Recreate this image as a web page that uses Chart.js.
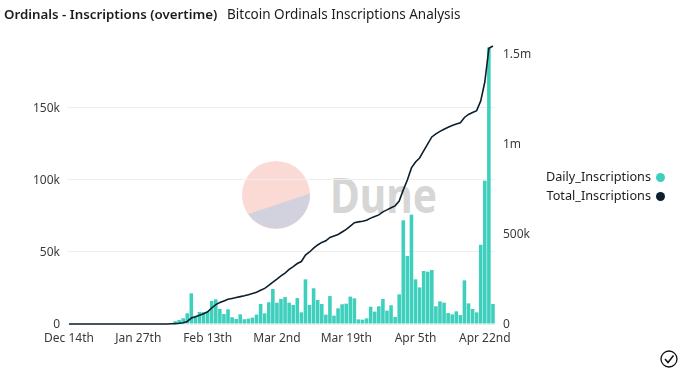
<!DOCTYPE html>
<html>
<head>
<meta charset="utf-8">
<title>Ordinals - Inscriptions (overtime)</title>
<script src="https://cdn.jsdelivr.net/npm/chart.js@4"></script>
<style>
  html, body { margin: 0; padding: 0; background: #fff; }
  #wrap { position: relative; width: 682px; height: 375px; overflow: hidden; font-family: "Noto Sans", sans-serif; color: #1c1c1c; }
  #title, #subtitle { position: absolute; top: 5px; line-height: 18px; white-space: nowrap; }
  #title { left: 4px; font-size: 13.3px; font-weight: 600; }
  #subtitle { left: 227px; font-size: 13.5px; }
  #mark, #check, #chart { position: absolute; left: 0; top: 0; }
  #legend { position: absolute; right: 17px; top: 167px; font-size: 12.7px; line-height: 19px; text-align: right; }
  #legend i { display: inline-block; width: 9px; height: 9px; border-radius: 50%; margin-left: 5px; vertical-align: -0.5px; }
</style>
</head>
<body>
<div id="wrap">
  <svg id="mark" width="682" height="375">
    <circle cx="276" cy="195" r="34" fill="#fbd9d5"/>
    <path d="M248.3 214.2 L309.9 193.4 A34 34 0 0 1 248.3 214.2 Z" fill="#d2d2de"/>
    <text x="330" y="213" font-family="Noto Sans" font-weight="700" font-size="48" fill="#d6d6d6" textLength="107" lengthAdjust="spacingAndGlyphs">Dune</text>
  </svg>
  <canvas id="chart" width="682" height="375"></canvas>
  <div id="title">Ordinals - Inscriptions (overtime)</div>
  <div id="subtitle">Bitcoin Ordinals Inscriptions Analysis</div>
  <div id="legend"></div>
  <svg id="check" width="682" height="375">
    <circle cx="669" cy="359" r="8" fill="none" stroke="#111" stroke-width="1.3"/>
    <path d="M665 359 L668 362.5 L673.5 355.5" fill="none" stroke="#111" stroke-width="1.5"/>
  </svg>
</div>
<script>
const days = [
  "Dec 14th", "Dec 15th", "Dec 17th", "Dec 19th", "Dec 22nd", "Dec 25th", "Dec 28th", "Dec 31st", "Jan 3rd",
  "Jan 6th", "Jan 9th", "Jan 12th", "Jan 15th", "Jan 18th", "Jan 21st", "Jan 23rd", "Jan 25th",
  "Jan 27th", "Jan 28th", "Jan 29th", "Jan 30th", "Jan 31st", "Feb 1st", "Feb 2nd", "Feb 3rd", "Feb 4th",
  "Feb 5th", "Feb 6th", "Feb 7th", "Feb 8th", "Feb 9th", "Feb 10th", "Feb 11th", "Feb 12th",
  "Feb 13th", "Feb 14th", "Feb 15th", "Feb 16th", "Feb 17th", "Feb 18th", "Feb 19th", "Feb 20th", "Feb 21st",
  "Feb 22nd", "Feb 23rd", "Feb 24th", "Feb 25th", "Feb 26th", "Feb 27th", "Feb 28th", "Mar 1st",
  "Mar 2nd", "Mar 3rd", "Mar 4th", "Mar 5th", "Mar 6th", "Mar 7th", "Mar 8th", "Mar 9th", "Mar 10th",
  "Mar 11th", "Mar 12th", "Mar 13th", "Mar 14th", "Mar 15th", "Mar 16th", "Mar 17th", "Mar 18th",
  "Mar 19th", "Mar 20th", "Mar 21st", "Mar 22nd", "Mar 23rd", "Mar 24th", "Mar 25th", "Mar 26th", "Mar 27th",
  "Mar 28th", "Mar 29th", "Mar 30th", "Mar 31st", "Apr 1st", "Apr 2nd", "Apr 3rd", "Apr 4th",
  "Apr 5th", "Apr 6th", "Apr 7th", "Apr 8th", "Apr 9th", "Apr 10th", "Apr 11th", "Apr 12th", "Apr 13th",
  "Apr 14th", "Apr 15th", "Apr 16th", "Apr 17th", "Apr 18th", "Apr 19th", "Apr 20th", "Apr 21st",
  "Apr 22nd", "Apr 23rd", "Apr 24th"
];

const dailyInscriptions = [
  0, 0, 0, 0, 0, 0, 0, 0, 0, 0, 0, 0, 0, 0, 0, 0, 0, 0, 0, 0, 0, 0, 0, 100, 200,
  700, 1900, 2800, 4000, 7400, 21300, 5600, 8300, 8300, 9000, 16000, 17100, 10400, 6900, 10200,
  4700, 3500, 6700, 3300, 3700, 4400, 6500, 13900, 7400, 15100, 24300, 14800, 17400, 18700, 14800,
  13200, 18000, 8100, 31000, 13200, 24800, 16700, 13900, 6500, 19400, 5800, 10900, 13700, 14100, 19000,
  17800, 3200, 3000, 3900, 12000, 8600, 12300, 17400, 9300, 13000, 4900, 20600, 72000, 47200, 75900,
  31000, 25400, 36800, 36300, 37500, 12300, 15700, 14800, 7600, 6700, 8800, 6200, 30300, 14300, 10400,
  8100, 55000, 99500, 192000, 13900
];

const totalInscriptions = [
  0, 0, 0, 0, 0, 0, 0, 0, 0, 0, 0, 0, 0, 0, 0, 0, 0, 0, 0, 0, 0, 0, 0, 100, 300,
  1000, 2000, 4000, 7000, 14000, 33000, 40000, 48000, 57000, 67000, 89000, 108000, 119000, 128000, 137000,
  142000, 147000, 152000, 157000, 163000, 169000, 176000, 187000, 198000, 214000, 233000, 249000, 267000, 283000, 303000,
  319000, 336000, 347000, 383000, 400000, 421000, 439000, 453000, 462000, 481000, 489000, 497000, 511000, 525000, 544000,
  563000, 567000, 571000, 576000, 588000, 597000, 606000, 623000, 634000, 646000, 656000, 683000, 745000, 800000, 867000,
  900000, 922000, 961000, 1000000, 1039000, 1056000, 1070000, 1082000, 1093000, 1103000, 1111000, 1118000, 1147000, 1164000, 1175000,
  1185000, 1239000, 1344000, 1531000, 1544000
];

const dailyTicks = [0, 50000, 100000, 150000];
const totalTicks = [0, 500000, 1000000, 1500000];

const tickFont = { family: "Noto Sans", size: 12 };
const tickColor = "#3a3a3a";

function shortNumber(v) {
  if (v >= 1000000) return (v / 1000000) + "m";
  if (v >= 1000) return (v / 1000) + "k";
  return String(v);
}

const chart = new Chart(document.getElementById("chart"), {
  data: {
    labels: days,
    datasets: [
      {
        type: "bar",
        label: "Daily_Inscriptions",
        data: dailyInscriptions,
        yAxisID: "y",
        order: 1,
        backgroundColor: "#3fcfbd",
        borderWidth: 0,
        barPercentage: 0.88,
        categoryPercentage: 1
      },
      {
        type: "line",
        label: "Total_Inscriptions",
        data: totalInscriptions,
        yAxisID: "y1",
        order: 0,
        borderColor: "#0d1f2d",
        backgroundColor: "#0d1f2d",
        borderWidth: 1.6,
        pointRadius: 0,
        tension: 0,
        clip: false
      }
    ]
  },
  options: {
    responsive: false,
    animation: false,
    layout: { padding: { top: 46 } },
    scales: {
      x: {
        grid: { display: false, drawTicks: false },
        border: { display: false },
        ticks: {
          autoSkip: false,
          maxRotation: 0,
          padding: 7,
          font: tickFont,
          color: tickColor,
          callback: function (value, index) {
            return index % 17 === 0 ? this.getLabelForValue(value) : null;
          }
        },
        afterFit: function (scale) { scale.height = 51; }
      },
      y: {
        position: "left",
        min: 0,
        max: 193000,
        grid: { color: "#eeeeee", drawTicks: false },
        border: { display: false },
        ticks: { autoSkip: false, padding: 7, labelOffset: 1, font: tickFont, color: tickColor, callback: shortNumber },
        afterBuildTicks: function (scale) {
          scale.ticks = dailyTicks.map(v => ({ value: v }));
        },
        afterFit: function (scale) { scale.width = 67; }
      },
      y1: {
        position: "right",
        min: 0,
        max: 1544000,
        grid: { display: false, drawTicks: false },
        border: { display: false },
        ticks: { autoSkip: false, padding: 8, labelOffset: 1, font: tickFont, color: tickColor, callback: shortNumber },
        afterBuildTicks: function (scale) {
          scale.ticks = totalTicks.map(v => ({ value: v }));
        },
        afterFit: function (scale) { scale.width = 187; }
      }
    },
    plugins: {
      tooltip: { enabled: false },
      legend: { display: false }
    }
  }
});

// legend sits outside the canvas, text first and marker on the right
const legendBox = document.getElementById("legend");
chart.data.datasets.forEach(function (ds) {
  const row = document.createElement("div");
  row.textContent = ds.label;
  const dot = document.createElement("i");
  dot.style.background = ds.backgroundColor;
  row.appendChild(dot);
  legendBox.appendChild(row);
});
</script>
</body>
</html>
